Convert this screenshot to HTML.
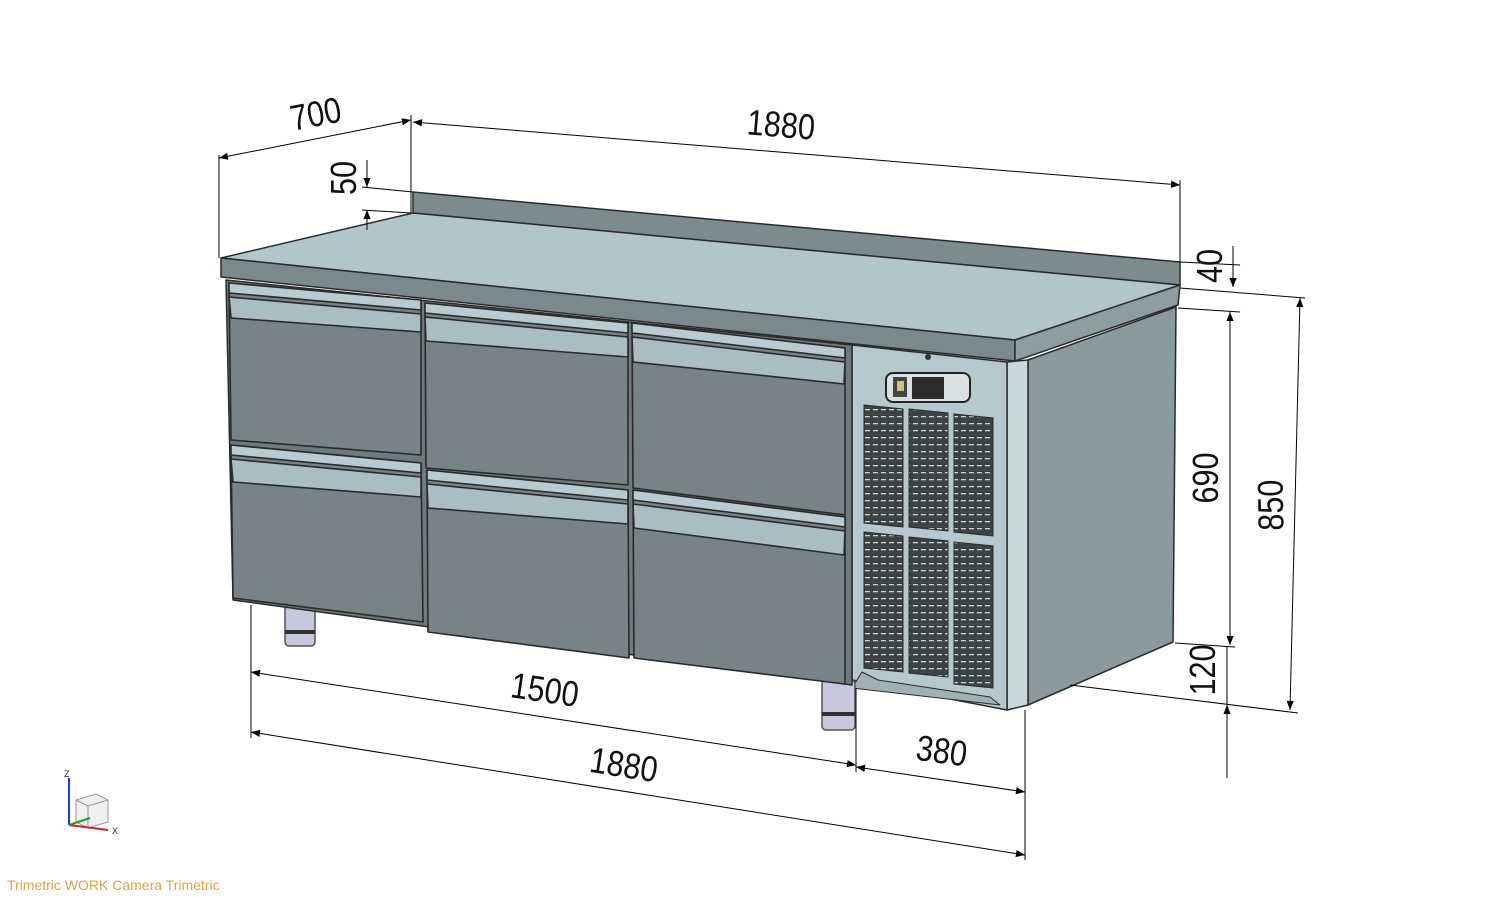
<!DOCTYPE html>
<html><head><meta charset="utf-8"><style>
html,body{margin:0;padding:0;background:#fff;width:1501px;height:897px;overflow:hidden}
svg{display:block}
.d{font-family:"Liberation Sans Narrow","Liberation Sans",sans-serif;font-size:36px;fill:#111;text-anchor:middle}
</style></head><body>
<svg width="1501" height="897" viewBox="0 0 1501 897" xmlns="http://www.w3.org/2000/svg">
<defs>
<marker id="a" viewBox="0 0 10 10" refX="10" refY="5" markerWidth="26" markerHeight="9" markerUnits="userSpaceOnUse" orient="auto-start-reverse"><path d="M0,1 L10,5 L0,9z" fill="#000"/></marker>
<pattern id="g" width="8" height="7" patternUnits="userSpaceOnUse"><rect width="8" height="7" fill="#3d4244"/><rect x="1" y="3" width="5" height="1.3" fill="#c9d5d8"/></pattern>
</defs>
<g stroke="#2a2a2a" stroke-width="1.5" stroke-linejoin="round">
<polygon points="413,192 1180,262 1180,285 413,213" fill="#7b8b8e"/>
<polygon points="221,258 413,213 1180,285 1015,340" fill="#b2c5cb"/>
<polygon points="221,258 1015,340 1015,361 221,277" fill="#7a898c"/>
<polygon points="1015,340 1180,285 1178,305 1015,361" fill="#8d9ea2"/>
<polygon points="1028,360 1176,307 1173,642 1028,705" fill="#8a9a9e"/>
<polygon points="1007,362 1028,360 1028,705 1007,710" fill="#c8d8dc"/>
<polygon points="852,345 1007,362 1007,710 852,680" fill="#b5c8cd"/>
<polygon points="862,672 878,680 990,697 1000,705 852,688" fill="#9fb1b5" stroke-width="1"/>
<rect x="285" y="600" width="30" height="46" rx="4" fill="#c7c7dd" stroke="#555"/>
<rect x="285" y="630" width="30" height="4" fill="#333" stroke="none"/>
<rect x="822" y="680" width="33" height="50" rx="4" fill="#c7c7dd" stroke="#555"/>
<rect x="822" y="712" width="33" height="4" fill="#333" stroke="none"/>
<polygon points="226,280 852,345 852,685 233,600" fill="#6e7b7e"/>
</g>
<g stroke="#2a2a2a" stroke-width="1.6" stroke-linejoin="round">
<polygon points="229,283 421,300 421,455 231,440" fill="#768487"/>
<polygon points="229,283 421,300 421,310 229,293" fill="#b8cbd0"/>
<polygon points="229,297 421,314 421,332 231,318" fill="#a9bdc2"/>
<polygon points="231,445 421,463 423,622 233,598" fill="#768487"/>
<polygon points="231,445 421,463 421,473 231,455" fill="#b8cbd0"/>
<polygon points="231,459 421,477 421,497 233,482" fill="#a9bdc2"/>
<polygon points="425,303 628,323 628,485 426,468" fill="#768487"/>
<polygon points="425,303 628,323 628,333 425,313" fill="#b8cbd0"/>
<polygon points="425,317 628,337 628,357 426,341" fill="#a9bdc2"/>
<polygon points="427,470 628,490 629,658 428,632" fill="#768487"/>
<polygon points="427,470 628,490 628,500 427,480" fill="#b8cbd0"/>
<polygon points="427,484 628,504 628,524 428,508" fill="#a9bdc2"/>
<polygon points="632,323 845,348 845,515 633,488" fill="#768487"/>
<polygon points="632,323 845,348 845,358 632,333" fill="#b8cbd0"/>
<polygon points="632,337 845,362 844,384 633,362" fill="#a9bdc2"/>
<polygon points="633,490 845,517 845,684 634,658" fill="#768487"/>
<polygon points="633,490 845,517 845,527 633,500" fill="#b8cbd0"/>
<polygon points="633,504 845,531 844,555 634,528" fill="#a9bdc2"/>
</g>
<g fill="url(#g)" stroke="#2a2a2a" stroke-width="1">
<polygon points="864,405 903,409 903,527 864,523"/>
<polygon points="909,409 948,413 948,531 909,527"/>
<polygon points="954,414 993,418 993,536 954,532"/>
<polygon points="864,532 903,536 903,672 864,668"/>
<polygon points="909,537 948,541 948,677 909,673"/>
<polygon points="954,542 993,546 993,688 954,684"/>
</g>
<rect x="886" y="373" width="84" height="29" rx="7" fill="#d8e0e2" stroke="#222" stroke-width="2"/>
<rect x="893" y="377" width="14" height="20" fill="#444"/>
<rect x="897" y="381" width="7" height="10" fill="#c9c07a"/>
<rect x="912" y="377" width="32" height="22" fill="#2c2c2c"/>
<circle cx="928" cy="357" r="3" fill="#333"/>
<g stroke="#000" stroke-width="1" fill="none">
<line x1="219" y1="155" x2="219" y2="258"/>
<line x1="411" y1="115" x2="411" y2="213"/>
<line x1="219" y1="158" x2="411" y2="120" marker-start="url(#a)" marker-end="url(#a)"/>
<line x1="1180" y1="180" x2="1180" y2="262"/>
<line x1="413" y1="122" x2="1180" y2="185" marker-start="url(#a)" marker-end="url(#a)"/>
<line x1="362" y1="187" x2="413" y2="192"/>
<line x1="362" y1="210" x2="411" y2="213"/>
<line x1="367" y1="160" x2="367" y2="187" marker-end="url(#a)"/>
<line x1="367" y1="230" x2="367" y2="210" marker-end="url(#a)"/>
<line x1="1180" y1="262" x2="1240" y2="265"/>
<line x1="1180" y1="288" x2="1305" y2="298"/>
<line x1="1233" y1="246" x2="1233" y2="287" marker-end="url(#a)"/>
<line x1="1178" y1="308" x2="1240" y2="312"/>
<line x1="1230" y1="312" x2="1230" y2="645" marker-start="url(#a)" marker-end="url(#a)"/>
<line x1="1175" y1="643" x2="1235" y2="647"/>
<line x1="1300" y1="298" x2="1290" y2="710" marker-start="url(#a)" marker-end="url(#a)"/>
<line x1="1070" y1="685" x2="1298" y2="713"/>
<line x1="1227" y1="647" x2="1227" y2="778" />
<line x1="1227" y1="745" x2="1227" y2="705" marker-end="url(#a)"/>
<line x1="251" y1="605" x2="251" y2="738"/>
<line x1="856" y1="688" x2="856" y2="772"/>
<line x1="1025" y1="710" x2="1025" y2="860"/>
<line x1="251" y1="672" x2="856" y2="765" marker-start="url(#a)" marker-end="url(#a)"/>
<line x1="251" y1="732" x2="1025" y2="855" marker-start="url(#a)" marker-end="url(#a)"/>
<line x1="856" y1="767" x2="1025" y2="792" marker-start="url(#a)" marker-end="url(#a)"/>
</g>
<g class="d">
<text class="d" transform="translate(318,126) rotate(-11) scale(0.85,1)">700</text>
<text class="d" transform="translate(780,137) rotate(4.7) scale(0.85,1)">1880</text>
<text class="d" transform="translate(356,178) rotate(-90) scale(0.85,1)">50</text>
<text class="d" transform="translate(1222,266) rotate(-90) scale(0.85,1)">40</text>
<text class="d" transform="translate(1218,478) rotate(-90) scale(0.85,1)">690</text>
<text class="d" transform="translate(1283,505) rotate(-91) scale(0.85,1)">850</text>
<text class="d" transform="translate(1215,670) rotate(-90) scale(0.85,1)">120</text>
<text class="d" transform="translate(543,702) rotate(8.5) scale(0.85,1)">1500</text>
<text class="d" transform="translate(622,777) rotate(9) scale(0.85,1)">1880</text>
<text class="d" transform="translate(940,763) rotate(8) scale(0.85,1)">380</text>
</g>
<g stroke-width="1">
<polygon points="76,800 96,794 108,800 108,822 88,828 76,822" fill="#eef0f2" stroke="#999"/>
<line x1="88" y1="806" x2="88" y2="828" stroke="#999"/>
<line x1="76" y1="800" x2="88" y2="806" stroke="#999"/>
<line x1="108" y1="800" x2="88" y2="806" stroke="#999"/>
<line x1="69" y1="825" x2="69" y2="778" stroke="#1a3fd0" stroke-width="2"/>
<line x1="69" y1="825" x2="108" y2="830" stroke="#d02020" stroke-width="2"/>
<line x1="69" y1="825" x2="90" y2="818" stroke="#20a020" stroke-width="2"/>
<text x="64" y="777" font-size="9" font-family="Liberation Sans,sans-serif" fill="#333">Z</text>
<text x="112" y="834" font-size="9" font-family="Liberation Sans,sans-serif" fill="#333">X</text>
</g>
<text x="7" y="890" font-size="14" font-family="Liberation Sans,sans-serif" fill="#e0a04a">Trimetric WORK Camera Trimetric</text>
</svg>
</body></html>
